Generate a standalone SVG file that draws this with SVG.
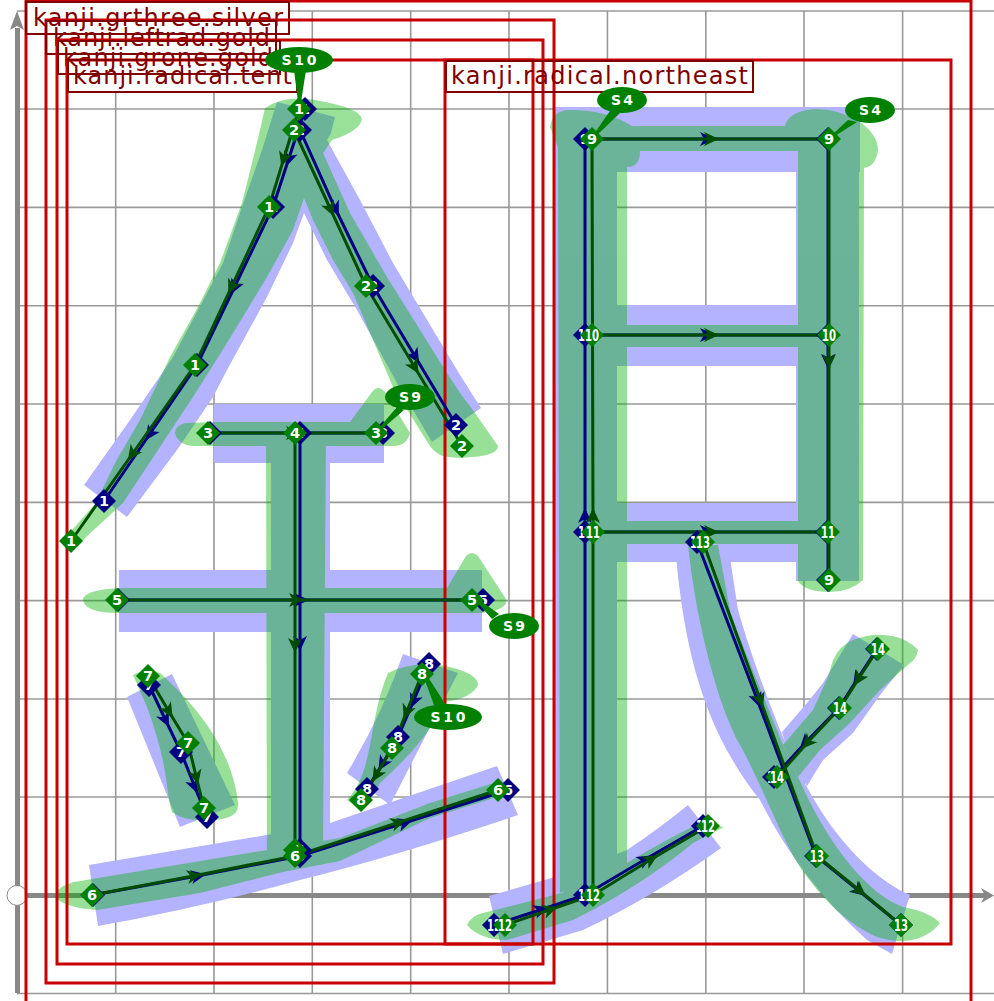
<svg xmlns="http://www.w3.org/2000/svg" xmlns:xlink="http://www.w3.org/1999/xlink" width="994" height="1001" viewBox="0 0 994 1001">
<style>
.grid{stroke:#999;stroke-width:1.6;fill:none}
.axis{stroke:#888;stroke-width:5;fill:none}
.blue{fill:#b3b3ff}
.green{fill:#00b400}
.rad{fill:none;stroke:#c80000;stroke-width:3}
.labf{fill:#fff}
.lab{fill:none;stroke:#800000;stroke-width:2}
.labt{fill:#800000;font:24px "DejaVu Sans",sans-serif}
.gl{fill:none;stroke:#004d00;stroke-width:3;marker-mid:url(#ag)}
.nl{fill:none;stroke:#000080;stroke-width:3;marker-mid:url(#an)}
.dg{fill:#008000}
.dn{fill:#000080}
text.t{fill:#fff;font:700 14.5px "DejaVu Sans",sans-serif;text-anchor:middle}
text.t2{fill:#fff;font:700 16px "DejaVu Sans",sans-serif;text-anchor:middle}
text.s{fill:#fff;font:700 14px "DejaVu Sans",sans-serif;text-anchor:middle}
</style>
<defs>
<marker id="ag" markerUnits="userSpaceOnUse" markerWidth="20" markerHeight="20" refX="10" refY="10" orient="auto" overflow="visible"><path d="M19,10 L4,3 L8,10 L4,17 Z" fill="#004d00"/></marker>
<marker id="an" markerUnits="userSpaceOnUse" markerWidth="20" markerHeight="20" refX="10" refY="10" orient="auto" overflow="visible"><path d="M19,10 L4,3 L8,10 L4,17 Z" fill="#000080"/></marker>
<path id="dia-g" class="dg" d="M0,-12 L12,0 L0,12 L-12,0 Z"/>
<path id="dia-n" class="dn" d="M0,-12 L12,0 L0,12 L-12,0 Z"/>
</defs>
<rect width="994" height="1001" fill="#fff"/>
<g id="grid">
<path class="grid" d="M115.7,11V993.5M214,11V993.5M312.3,11V993.5M410.7,11V993.5M509,11V993.5M607.4,11V993.5M705.8,11V993.5M804,11V993.5M902.6,11V993.5"/>
<path class="grid" d="M17,11H994M17,109H994M17,207.4H994M17,305.8H994M17,404H994M17,502.4H994M17,600.6H994M17,699H994M17,797H994M17,993.5H994"/>
<path class="axis" d="M17.5,28V993M17,895.4H985"/>
<path d="M17,11 L24,30 L17,26 L10,30 Z M994,895.4 L981,888 L985,895.4 L981,903 Z" fill="#888"/>
<circle cx="17" cy="895.4" r="10" fill="#fff" stroke="#888" stroke-width="1"/>
</g>
<g id="blue-strokes" class="blue">
<path d="M277,102 L335,117 L331,133 L327,140 L360,200 L393,263 L460,375 L481,408 L432,442 L397,383 L357,310 L327,260 L304,213 L293,243 L267,297 L227,370 L213,397 L177,450 L127,517 L84,485 L130,420 L173,357 L223,263 L242,207 L262,150 Z"/>
<rect x="214" y="404" width="170" height="59"/>
<rect x="271" y="404" width="59" height="456"/>
<rect x="119" y="570" width="363" height="62"/>
<path d="M89,865 L267,835 L330,823 L497,766 L518,815 Q400,855 300,880 Q200,908 98,926 Z"/>
<path d="M127,697 L172,674 L235,805 L180,827 Z"/>
<path d="M403,654 L458,673 L425,737 L390,805 L347,773 Q382,715 403,654 Z"/>
<rect x="555" y="107" width="305" height="65"/>
<rect x="553" y="107" width="64" height="773"/>
<rect x="796" y="107" width="63" height="474"/>
<rect x="617" y="305" width="180" height="61"/>
<rect x="617" y="503" width="180" height="59"/>
<path d="M489,896 L562,875 L627,850 Q660,828 688,805 L721,848 Q653,897 583,930 L503,954 Z"/>
<path d="M675,545 C683,640 700,725 760,800 Q800,880 867,940 L892,954 L910,895 C875,880 835,840 807,787 C790,760 755,670 738,610 L728,545 Z"/>
<path d="M853,634 L904,665 L880,695 L853,733 L823,760 L807,786 L790,760 L782,732 L807,703 L823,683 Z"/>
</g>
<g id="green-strokes" class="green" opacity="0.4">
<path d="M265,108 Q285,95 315,100 Q362,108 362,120 Q358,132 332,140 L323,153 L350,213 L387,277 L445,370 L460,393 L475,413 L498,446 Q498,455 473,457 Q450,459 440,455 Q432,450 428,443 L393,387 L353,293 L333,260 L313,220 L304,198 L293,230 L267,277 L227,343 L193,397 L160,447 L123,503 L85,538 Q75,552 65,548 L72,530 L96,503 L115,463 L140,420 L170,357 L198,307 L220,263 L242,203 L252,163 L260,130 Z"/>
<path d="M214,422 L185,423 Q175,426 175,433 Q178,445 193,446 L393,446 Q407,446 410,433 L385,392 Q378,384 372,392 L350,422 Z"/>
<path d="M266,433 L326,433 L323,850 L267,860 Z"/>
<path d="M119,588 Q83,590 83,600 Q85,613 119,613 L482,613 L497,610 Q508,606 506,599 L478,556 Q472,550 466,556 L447,588 Z"/>
<path d="M58,890 Q65,883 80,881 L267,850 L340,838 L430,803 L497,782 L497,797 L430,818 L340,861 L283,872 L200,893 L97,910 Q65,908 55,897 Z"/>
<path d="M133,675 Q147,667 160,673 C190,700 232,745 238,803 Q240,820 210,820 Q185,822 172,812 C165,790 170,770 147,707 Z"/>
<path d="M388,673 Q410,662 440,665 Q478,672 478,685 Q472,698 445,702 C430,735 405,760 380,783 Q368,805 360,810 L347,800 C375,770 368,720 388,673 Z"/>
<path d="M550,127 Q552,112 567,110 Q605,109 632,126 L785,126 Q788,112 813,109 Q838,108 860,122 Q878,135 878,150 Q876,166 864,168 L863,580 Q850,592 830,592 Q805,592 798,581 L798,151 L640,151 Q640,167 627,167 L627,863 L560,893 L558,147 Z"/>
<rect x="617" y="325" width="181" height="22"/>
<rect x="617" y="521" width="181" height="23"/>
<path d="M467,925 Q472,915 483,913 L562,893 L617,850 L627,863 Q665,840 700,823 L724,827 L693,843 Q640,887 573,920 L507,940 Q480,940 467,925 Z"/>
<path d="M688,545 C697,630 720,710 740,745 C765,790 785,850 808,878 Q835,915 867,932 Q880,940 897,941 Q925,942 940,923 Q930,912 903,907 C870,895 830,850 798,777 L783,745 C765,700 740,640 730,610 L718,545 Z"/>
<path d="M833,660 Q840,645 853,640 Q870,634 883,635 Q905,636 918,650 Q916,660 910,663 L880,690 L850,723 L820,750 L798,777 L783,745 L813,710 L828,677 Z"/>
</g>
<g id="label-fills" class="labf">
<rect x="26" y="2" width="263" height="32"/>
<rect x="46" y="21" width="230" height="33"/>
<rect x="58" y="41" width="222" height="33"/>
<rect x="68" y="60" width="229" height="32"/>
<rect x="446" y="61" width="307" height="31"/>
</g>
<g id="radical-grthree-silver"><text class="labt" x="33" y="26" textLength="250" lengthAdjust="spacing">kanji.grthree.silver</text><rect class="rad" x="26" y="1" width="945" height="1010"/><rect class="lab" x="26" y="2" width="263" height="32"/></g>
<g id="radical-leftrad-gold"><text class="labt" x="53" y="46" textLength="217" lengthAdjust="spacing">kanji.leftrad.gold</text><rect class="rad" x="46" y="20" width="508" height="963"/><rect class="lab" x="46" y="21" width="230" height="33"/></g>
<g id="radical-grone-gold"><text class="labt" x="63" y="66" textLength="210" lengthAdjust="spacing">kanji.grone.gold</text><rect class="rad" x="57" y="40" width="486" height="924"/><rect class="lab" x="58" y="41" width="222" height="33"/></g>
<g id="radical-tent"><text class="labt" x="73" y="84" textLength="219" lengthAdjust="spacing">kanji.radical.tent</text><rect class="rad" x="67" y="60" width="466" height="884"/><rect class="lab" x="68" y="60" width="229" height="32"/></g>
<g id="radical-northeast"><text class="labt" x="451" y="84" textLength="297" lengthAdjust="spacing">kanji.radical.northeast</text><rect class="rad" x="445" y="60" width="506" height="884"/><rect class="lab" x="446" y="61" width="307" height="31"/></g>
<g id="connectors">
<polyline class="nl" points="305,109 289,158 273,207 235,286 197,365 150.5,433 104,501"/>
<polyline class="nl" points="300,130 335,208 373,286 414.5,355.5 456,425"/>
<polyline class="nl" points="210,433 296,433 383,433"/>
<polyline class="nl" points="300,433 300,642 300,850"/>
<polyline class="nl" points="118,600 300,600 483,600"/>
<polyline class="nl" points="93,895 197,876 300,856 404,823 508,790"/>
<polyline class="nl" points="149,685 165,719 181,752 194,785 207,817"/>
<polyline class="nl" points="429,664 414,700 398,737 383,763 367,789"/>
<polyline class="nl" points="585,895 585,517 585,139 706,139 828,139 828,360 828,580"/>
<polyline class="nl" points="585,335 706,335 828,335"/>
<polyline class="nl" points="585,532 706,532 827,532"/>
<polyline class="nl" points="494,925 540,910 585,895 644,860 703,826"/>
<polyline class="nl" points="697,542 757,699 816,856 858,890 901,925"/>
<polyline class="nl" points="877,649 858,678 839,708 806,742 774,777"/>
<polyline class="gl" points="299,109 284,158 269,207 232,286 195,365 133,453 71,541"/>
<polyline class="gl" points="294,130 330,208 366,286 414,366 462,446"/>
<polyline class="gl" points="208,433 292,433 376,433"/>
<polyline class="gl" points="295,433 295,644 295,850"/>
<polyline class="gl" points="117,600 295,600 472,600"/>
<polyline class="gl" points="92,895 193,876 295,856 397,823 498,790"/>
<polyline class="gl" points="148,676 168,710 188,743 196,776 204,808"/>
<polyline class="gl" points="422,674 407,711 392,748 377,774 361,800"/>
<polyline class="gl" points="593,895 593,517 592,139 710,139 829,139 829,360 829,580"/>
<polyline class="gl" points="592,335 710,335 829,335"/>
<polyline class="gl" points="593,532 710,532 828,532"/>
<polyline class="gl" points="505,925 549,910 593,895 650,860 708,826"/>
<polyline class="gl" points="703,542 760,699 817,856 859,890 901,925"/>
<polyline class="gl" points="878,649 859,678 840,708 808,742 777,777"/>
</g>
<g id="navy-nodes">
<g id="n1a" transform="translate(305,109)"><use xlink:href="#dia-n"/><text class="t" y="5">1</text></g>
<g id="n1b" transform="translate(273,207)"><use xlink:href="#dia-n"/><text class="t" y="5">1</text></g>
<g id="n1c" transform="translate(197,365)"><use xlink:href="#dia-n"/><text class="t" y="5">1</text></g>
<g id="n1d" transform="translate(104,501)"><use xlink:href="#dia-n"/><text class="t" y="5">1</text></g>
<g id="n2a" transform="translate(300,130)"><use xlink:href="#dia-n"/><text class="t" y="5">2</text></g>
<g id="n2b" transform="translate(373,286)"><use xlink:href="#dia-n"/><text class="t" y="5">2</text></g>
<g id="n2c" transform="translate(456,425)"><use xlink:href="#dia-n"/><text class="t" y="5">2</text></g>
<g id="n3a" transform="translate(210,433)"><use xlink:href="#dia-n"/><text class="t" y="5">3</text></g>
<g id="n3b" transform="translate(383,433)"><use xlink:href="#dia-n"/><text class="t" y="5">3</text></g>
<g id="n4a" transform="translate(300,433)"><use xlink:href="#dia-n"/><text class="t" y="5">4</text></g>
<g id="n4b" transform="translate(300,850)"><use xlink:href="#dia-n"/><text class="t" y="5">4</text></g>
<g id="n5a" transform="translate(118,600)"><use xlink:href="#dia-n"/><text class="t" y="5">5</text></g>
<g id="n5b" transform="translate(483,600)"><use xlink:href="#dia-n"/><text class="t" y="5">5</text></g>
<g id="n6a" transform="translate(93,895)"><use xlink:href="#dia-n"/><text class="t" y="5">6</text></g>
<g id="n6b" transform="translate(300,856)"><use xlink:href="#dia-n"/><text class="t" y="5">6</text></g>
<g id="n6c" transform="translate(508,790)"><use xlink:href="#dia-n"/><text class="t" y="5">6</text></g>
<g id="n7a" transform="translate(149,685)"><use xlink:href="#dia-n"/><text class="t" y="5">7</text></g>
<g id="n7b" transform="translate(181,752)"><use xlink:href="#dia-n"/><text class="t" y="5">7</text></g>
<g id="n7c" transform="translate(207,817)"><use xlink:href="#dia-n"/><text class="t" y="5">7</text></g>
<g id="n8a" transform="translate(429,664)"><use xlink:href="#dia-n"/><text class="t" y="5">8</text></g>
<g id="n8b" transform="translate(398,737)"><use xlink:href="#dia-n"/><text class="t" y="5">8</text></g>
<g id="n8c" transform="translate(367,789)"><use xlink:href="#dia-n"/><text class="t" y="5">8</text></g>
<g id="n9a" transform="translate(585,139)"><use xlink:href="#dia-n"/><text class="t" y="5">9</text></g>
<g id="n9b" transform="translate(828,139)"><use xlink:href="#dia-n"/><text class="t" y="5">9</text></g>
<g id="n9c" transform="translate(828,580)"><use xlink:href="#dia-n"/><text class="t" y="5">9</text></g>
<g id="n10a" transform="translate(585,335)"><use xlink:href="#dia-n"/><text class="t2" y="6" textLength="14" lengthAdjust="spacingAndGlyphs">10</text></g>
<g id="n10b" transform="translate(828,335)"><use xlink:href="#dia-n"/><text class="t2" y="6" textLength="14" lengthAdjust="spacingAndGlyphs">10</text></g>
<g id="n11a" transform="translate(585,532)"><use xlink:href="#dia-n"/><text class="t2" y="6" textLength="14" lengthAdjust="spacingAndGlyphs">11</text></g>
<g id="n11b" transform="translate(827,532)"><use xlink:href="#dia-n"/><text class="t2" y="6" textLength="14" lengthAdjust="spacingAndGlyphs">11</text></g>
<g id="n12a" transform="translate(494,925)"><use xlink:href="#dia-n"/><text class="t2" y="6" textLength="14" lengthAdjust="spacingAndGlyphs">12</text></g>
<g id="n12b" transform="translate(585,895)"><use xlink:href="#dia-n"/><text class="t2" y="6" textLength="14" lengthAdjust="spacingAndGlyphs">12</text></g>
<g id="n12c" transform="translate(703,826)"><use xlink:href="#dia-n"/><text class="t2" y="6" textLength="14" lengthAdjust="spacingAndGlyphs">12</text></g>
<g id="n13a" transform="translate(697,542)"><use xlink:href="#dia-n"/><text class="t2" y="6" textLength="14" lengthAdjust="spacingAndGlyphs">13</text></g>
<g id="n13b" transform="translate(816,856)"><use xlink:href="#dia-n"/><text class="t2" y="6" textLength="14" lengthAdjust="spacingAndGlyphs">13</text></g>
<g id="n13c" transform="translate(901,925)"><use xlink:href="#dia-n"/><text class="t2" y="6" textLength="14" lengthAdjust="spacingAndGlyphs">13</text></g>
<g id="n14a" transform="translate(877,649)"><use xlink:href="#dia-n"/><text class="t2" y="6" textLength="14" lengthAdjust="spacingAndGlyphs">14</text></g>
<g id="n14b" transform="translate(839,708)"><use xlink:href="#dia-n"/><text class="t2" y="6" textLength="14" lengthAdjust="spacingAndGlyphs">14</text></g>
<g id="n14c" transform="translate(774,777)"><use xlink:href="#dia-n"/><text class="t2" y="6" textLength="14" lengthAdjust="spacingAndGlyphs">14</text></g>
</g>
<g id="stroke-counts" class="dg">
<g id="s10-top"><path d="M294,70 L306,70 L301,102 L298,102 Z"/><ellipse cx="299" cy="60" rx="34" ry="13"/><text class="s" x="299" y="65" textLength="35">S 1 0</text></g>
<g id="s4-left"><path d="M612,108 L620,113 L596,136 L594,134 Z"/><ellipse cx="622" cy="100" rx="25" ry="13"/><text class="s" x="622" y="105" textLength="22">S 4</text></g>
<g id="s4-right"><path d="M848,120 L857,122 L835,136 L833,134 Z"/><ellipse cx="870" cy="110" rx="25" ry="13"/><text class="s" x="870" y="115" textLength="22">S 4</text></g>
<g id="s9-top"><path d="M397,407 L404,410 L381,430 L379,428 Z"/><ellipse cx="410" cy="397" rx="25" ry="13"/><text class="s" x="410" y="402" textLength="22">S 9</text></g>
<g id="s9-low"><path d="M476,601 L478,599 L499,614 L492,619 Z"/><ellipse cx="514" cy="626" rx="25" ry="13"/><text class="s" x="514" y="631" textLength="22">S 9</text></g>
<g id="s10-low"><path d="M423,675 L426,674 L446,705 L434,705 Z"/><ellipse cx="448" cy="717" rx="34" ry="13"/><text class="s" x="448" y="722" textLength="35">S 1 0</text></g>
</g>
<g id="green-nodes">
<g id="g1a" transform="translate(299,109)"><use xlink:href="#dia-g"/><text class="t" y="5">1</text></g>
<g id="g1b" transform="translate(269,207)"><use xlink:href="#dia-g"/><text class="t" y="5">1</text></g>
<g id="g1c" transform="translate(195,365)"><use xlink:href="#dia-g"/><text class="t" y="5">1</text></g>
<g id="g1d" transform="translate(71,541)"><use xlink:href="#dia-g"/><text class="t" y="5">1</text></g>
<g id="g2a" transform="translate(294,130)"><use xlink:href="#dia-g"/><text class="t" y="5">2</text></g>
<g id="g2b" transform="translate(366,286)"><use xlink:href="#dia-g"/><text class="t" y="5">2</text></g>
<g id="g2c" transform="translate(462,446)"><use xlink:href="#dia-g"/><text class="t" y="5">2</text></g>
<g id="g3a" transform="translate(208,433)"><use xlink:href="#dia-g"/><text class="t" y="5">3</text></g>
<g id="g3b" transform="translate(376,433)"><use xlink:href="#dia-g"/><text class="t" y="5">3</text></g>
<g id="g4a" transform="translate(295,433)"><use xlink:href="#dia-g"/><text class="t" y="5">4</text></g>
<g id="g4b" transform="translate(295,850)"><use xlink:href="#dia-g"/><text class="t" y="5">4</text></g>
<g id="g5a" transform="translate(117,600)"><use xlink:href="#dia-g"/><text class="t" y="5">5</text></g>
<g id="g5b" transform="translate(472,600)"><use xlink:href="#dia-g"/><text class="t" y="5">5</text></g>
<g id="g6a" transform="translate(92,895)"><use xlink:href="#dia-g"/><text class="t" y="5">6</text></g>
<g id="g6b" transform="translate(295,856)"><use xlink:href="#dia-g"/><text class="t" y="5">6</text></g>
<g id="g6c" transform="translate(498,790)"><use xlink:href="#dia-g"/><text class="t" y="5">6</text></g>
<g id="g7a" transform="translate(148,676)"><use xlink:href="#dia-g"/><text class="t" y="5">7</text></g>
<g id="g7b" transform="translate(188,743)"><use xlink:href="#dia-g"/><text class="t" y="5">7</text></g>
<g id="g7c" transform="translate(204,808)"><use xlink:href="#dia-g"/><text class="t" y="5">7</text></g>
<g id="g8a" transform="translate(422,674)"><use xlink:href="#dia-g"/><text class="t" y="5">8</text></g>
<g id="g8b" transform="translate(392,748)"><use xlink:href="#dia-g"/><text class="t" y="5">8</text></g>
<g id="g8c" transform="translate(361,800)"><use xlink:href="#dia-g"/><text class="t" y="5">8</text></g>
<g id="g9a" transform="translate(592,139)"><use xlink:href="#dia-g"/><text class="t" y="5">9</text></g>
<g id="g9b" transform="translate(829,139)"><use xlink:href="#dia-g"/><text class="t" y="5">9</text></g>
<g id="g9c" transform="translate(829,580)"><use xlink:href="#dia-g"/><text class="t" y="5">9</text></g>
<g id="g10a" transform="translate(592,335)"><use xlink:href="#dia-g"/><text class="t2" y="6" textLength="14" lengthAdjust="spacingAndGlyphs">10</text></g>
<g id="g10b" transform="translate(829,335)"><use xlink:href="#dia-g"/><text class="t2" y="6" textLength="14" lengthAdjust="spacingAndGlyphs">10</text></g>
<g id="g11a" transform="translate(593,532)"><use xlink:href="#dia-g"/><text class="t2" y="6" textLength="14" lengthAdjust="spacingAndGlyphs">11</text></g>
<g id="g11b" transform="translate(828,532)"><use xlink:href="#dia-g"/><text class="t2" y="6" textLength="14" lengthAdjust="spacingAndGlyphs">11</text></g>
<g id="g12a" transform="translate(505,925)"><use xlink:href="#dia-g"/><text class="t2" y="6" textLength="14" lengthAdjust="spacingAndGlyphs">12</text></g>
<g id="g12b" transform="translate(593,895)"><use xlink:href="#dia-g"/><text class="t2" y="6" textLength="14" lengthAdjust="spacingAndGlyphs">12</text></g>
<g id="g12c" transform="translate(708,826)"><use xlink:href="#dia-g"/><text class="t2" y="6" textLength="14" lengthAdjust="spacingAndGlyphs">12</text></g>
<g id="g13a" transform="translate(703,542)"><use xlink:href="#dia-g"/><text class="t2" y="6" textLength="14" lengthAdjust="spacingAndGlyphs">13</text></g>
<g id="g13b" transform="translate(817,856)"><use xlink:href="#dia-g"/><text class="t2" y="6" textLength="14" lengthAdjust="spacingAndGlyphs">13</text></g>
<g id="g13c" transform="translate(901,925)"><use xlink:href="#dia-g"/><text class="t2" y="6" textLength="14" lengthAdjust="spacingAndGlyphs">13</text></g>
<g id="g14a" transform="translate(878,649)"><use xlink:href="#dia-g"/><text class="t2" y="6" textLength="14" lengthAdjust="spacingAndGlyphs">14</text></g>
<g id="g14b" transform="translate(840,708)"><use xlink:href="#dia-g"/><text class="t2" y="6" textLength="14" lengthAdjust="spacingAndGlyphs">14</text></g>
<g id="g14c" transform="translate(777,777)"><use xlink:href="#dia-g"/><text class="t2" y="6" textLength="14" lengthAdjust="spacingAndGlyphs">14</text></g>
</g>
</svg>
